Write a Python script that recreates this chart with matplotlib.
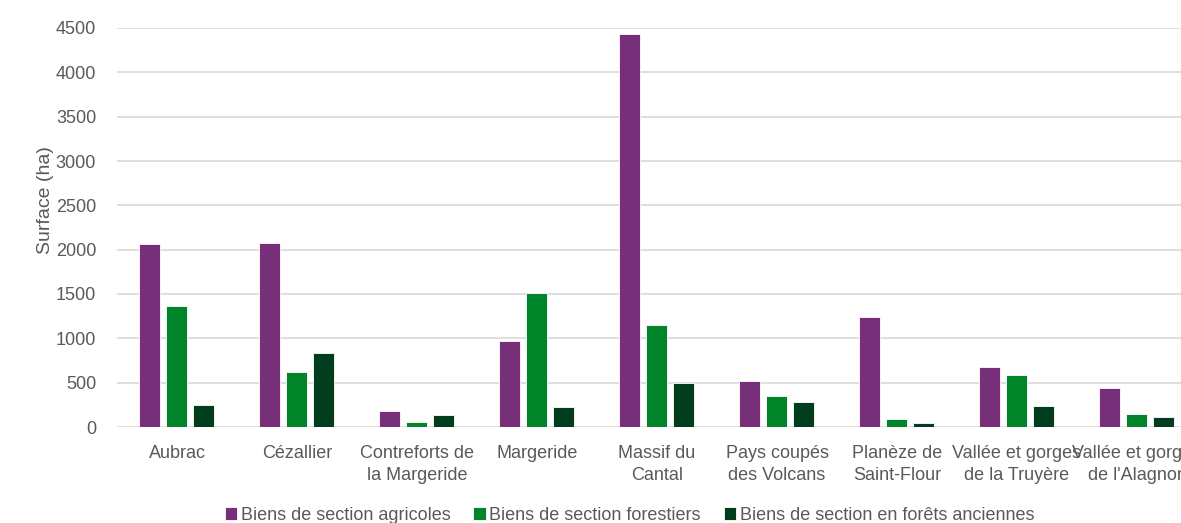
import numpy as np
import matplotlib.pyplot as plt

plt.rcParams['font.family'] = ['Liberation Sans', 'DejaVu Sans']

categories = ["Aubrac", "Cézallier", "Contreforts de\nla Margeride", "Margeride",
              "Massif du\nCantal", "Pays coupés\ndes Volcans", "Planèze de\nSaint-Flour",
              "Vallée et gorges\nde la Truyère", "Vallée et gorges\nde l'Alagnon"]
agricoles = [2060, 2070, 185, 965, 4430, 515, 1235, 680, 435]
forestiers = [1360, 615, 60, 1510, 1145, 345, 95, 585, 150]
forets_anciennes = [245, 830, 130, 230, 500, 285, 40, 240, 115]
series_names = ["Biens de section agricoles", "Biens de section forestiers",
                "Biens de section en forêts anciennes"]
colors = ['#772F79', '#00852A', '#003D1C']

text_col = '#595959'
fig = plt.figure(figsize=(11.81, 5.23), dpi=100)
# plot area runs past the right edge of the image, as in the reference crop
ax = fig.add_axes([117/1181, 96/523, 1080/1181, 399/523])

x = np.arange(len(categories))
w = 0.175
offs = [-0.232, -0.005, 0.218]
for vals, off, c, name in zip([agricoles, forestiers, forets_anciennes], offs, colors, series_names):
    ax.bar(x + off, vals, width=w, color=c, edgecolor='white', linewidth=0.6, label=name, zorder=3)

ax.set_xlim(-0.5, len(categories) - 0.5)
ax.set_ylim(0, 4500)
ax.set_yticks(np.arange(0, 4501, 500))
ax.yaxis.grid(True, color='#d9d9d9', linewidth=1.2, zorder=0)
ax.set_xticks(x)
ax.set_xticklabels(categories, fontsize=13, color=text_col, linespacing=1.4)
ax.tick_params(axis='y', labelsize=13, labelcolor=text_col, length=0, pad=15)
ax.tick_params(axis='x', length=0, pad=13)
for s in ax.spines.values():
    s.set_visible(False)
ax.set_ylabel("Surface (ha)", fontsize=14, color=text_col)
ax.yaxis.set_label_coords(-0.058, 0.57)

fig.legend(loc='lower center', bbox_to_anchor=(0.533, -0.033), ncol=3, frameon=False,
           fontsize=13, handlelength=0.7, handleheight=0.7, handletextpad=0.2,
           columnspacing=1.25, labelcolor=text_col)

fig.savefig('out.png', dpi=100)
